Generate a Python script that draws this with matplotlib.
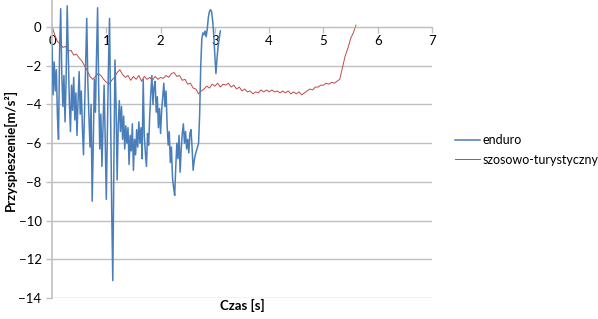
import matplotlib
matplotlib.use("Agg")
import matplotlib.pyplot as plt

plt.rcParams["font.family"] = ["Lato", "DejaVu Sans"]

# enduro: (time [s], acceleration [m/s^2])
enduro_t = [0.00, 0.02, 0.04, 0.06, 0.08, 0.10, 0.12, 0.14, 0.16, 0.18,
            0.20, 0.22, 0.24, 0.26, 0.28, 0.30, 0.32, 0.34, 0.36, 0.38,
            0.40, 0.42, 0.44, 0.46, 0.48, 0.50, 0.52, 0.54, 0.56, 0.58,
            0.60, 0.62, 0.64, 0.66, 0.68, 0.70, 0.72, 0.74, 0.76, 0.78,
            0.80, 0.82, 0.84, 0.86, 0.88, 0.90, 0.92, 0.94, 0.96, 0.98,
            1.00, 1.02, 1.04, 1.06, 1.08, 1.10, 1.12, 1.14, 1.16, 1.18,
            1.20, 1.22, 1.24, 1.26, 1.28, 1.30, 1.32, 1.34, 1.36, 1.38,
            1.40, 1.42, 1.44, 1.46, 1.48, 1.50, 1.52, 1.54, 1.56, 1.58,
            1.60, 1.62, 1.64, 1.66, 1.68, 1.70, 1.72, 1.74, 1.76, 1.78,
            1.80, 1.82, 1.84, 1.86, 1.88, 1.90, 1.92, 1.94, 1.96, 1.98,
            2.00, 2.02, 2.04, 2.06, 2.08, 2.10, 2.12, 2.14, 2.16, 2.18,
            2.20, 2.22, 2.24, 2.26, 2.28, 2.30, 2.32, 2.34, 2.36, 2.38,
            2.40, 2.42, 2.44, 2.46, 2.48, 2.50, 2.52, 2.54, 2.56, 2.58,
            2.60, 2.62, 2.64, 2.66, 2.68, 2.70, 2.72, 2.74, 2.76, 2.78,
            2.80, 2.82, 2.84, 2.86, 2.88, 2.90, 2.92, 2.94, 2.96, 2.98,
            3.00, 3.02, 3.04, 3.06, 3.08, 3.10]
enduro_a = [-0.9, -3.5, -1.8, -3.3, -2.2, -4.6, -5.8, -1.2, 0.95, -2.4,
            -4.1, -2.5, -4.9, -2.7, 1.1, -1.3, -3.9, -5.4, -3.0, -4.3,
            -2.6, -4.8, -3.4, -5.6, -3.8, -2.3, -4.5, -3.3, -5.2, -6.6,
            -4.3, -2.1, 0.45, -2.8, -4.6, -6.2, -4.0, -9.0, -6.1, -2.7,
            -4.4, -1.5, 1.0, -3.2, -6.3, -4.5, -7.2, -5.0, -3.0, -5.8,
            -8.9, -5.5, -2.0, 0.45, -4.5, -9.5, -13.1, -7.0, -1.7, -4.0,
            -7.9, -5.0, -3.8, -5.4, -4.1, -5.8, -4.6, -6.3, -5.1, -6.0,
            -5.2, -7.1, -5.6, -6.4, -5.0, -7.4, -5.8, -6.6, -5.3, -6.2,
            -4.9, -6.0, -5.2, -6.8, -2.7, -5.6, -6.5, -7.2, -5.5, -6.1,
            -4.6, -3.4, -2.5, -4.0, -3.1, -2.8, -4.4, -3.6, -5.2, -4.2,
            -5.5, -4.3, -3.6, -2.9, -4.1, -3.3, -5.0, -6.1, -5.4, -7.0,
            -6.2, -7.8, -8.3, -8.7, -7.2, -6.0, -6.8, -5.6, -7.5, -6.3,
            -5.5, -5.0, -6.0, -5.4, -6.3, -5.8, -6.5, -5.5, -5.3, -6.2,
            -7.4, -6.9, -6.6, -6.4, -6.2, -6.0, -4.5, -2.0, -0.6, -0.3,
            -0.4, -0.2, -0.5, -0.1, 0.5, 0.8, 0.9, 0.8, 0.3, -0.4,
            -1.5, -2.4, -1.6, -1.0, -0.6, -0.2]

# szosowo-turystyczny
road_t = [0.00, 0.05, 0.10, 0.15, 0.20, 0.25, 0.30, 0.35, 0.40, 0.45,
          0.50, 0.55, 0.60, 0.65, 0.70, 0.75, 0.80, 0.85, 0.90, 0.95,
          1.00, 1.05, 1.10, 1.15, 1.20, 1.25, 1.30, 1.35, 1.40, 1.45,
          1.50, 1.55, 1.60, 1.65, 1.70, 1.75, 1.80, 1.85, 1.90, 1.95,
          2.00, 2.05, 2.10, 2.15, 2.20, 2.25, 2.30, 2.35, 2.40, 2.45,
          2.50, 2.55, 2.60, 2.65, 2.70, 2.75, 2.80, 2.85, 2.90, 2.95,
          3.00, 3.05, 3.10, 3.15, 3.20, 3.25, 3.30, 3.35, 3.40, 3.45,
          3.50, 3.55, 3.60, 3.65, 3.70, 3.75, 3.80, 3.85, 3.90, 3.95,
          4.00, 4.05, 4.10, 4.15, 4.20, 4.25, 4.30, 4.35, 4.40, 4.45,
          4.50, 4.55, 4.60, 4.65, 4.70, 4.75, 4.80, 4.85, 4.90, 4.95,
          5.00, 5.05, 5.10, 5.15, 5.20, 5.25, 5.30, 5.35, 5.40, 5.45,
          5.50, 5.55, 5.60]
road_a = [0.05, -0.4, -0.75, -0.85, -1.05, -1.0, -1.25, -1.2, -1.45, -1.4,
          -1.6, -1.75, -2.0, -2.25, -2.55, -2.7, -2.55, -2.4, -2.5, -2.7,
          -2.85, -2.95, -2.75, -2.6, -2.35, -2.2, -2.45, -2.6, -2.5, -2.75,
          -2.55, -2.7, -2.5, -2.8, -2.55, -2.7, -2.6, -2.75, -2.55, -2.7,
          -2.6, -2.65, -2.5, -2.6, -2.4, -2.35, -2.55, -2.5, -2.75, -2.7,
          -2.95, -2.9, -3.15, -3.2, -3.45, -3.3, -3.2, -3.05, -3.15, -2.95,
          -3.05, -2.9, -3.1, -2.95, -3.0, -2.9, -3.1, -3.0, -3.2, -3.1,
          -3.3, -3.2, -3.35, -3.3, -3.45, -3.35, -3.4, -3.25, -3.35, -3.25,
          -3.35, -3.25, -3.35, -3.3, -3.4, -3.3, -3.4, -3.3, -3.45, -3.35,
          -3.45, -3.35, -3.5, -3.4, -3.3, -3.2, -3.25, -3.1, -3.1, -3.0,
          -3.0, -2.9, -2.95, -2.85, -2.9, -2.8, -2.7, -2.1, -1.5, -1.1,
          -0.6, -0.3, 0.1]

GRID = "#bfbfbf"

fig = plt.figure(figsize=(5.98, 3.19), dpi=100)
ax = fig.add_axes([52 / 598, 21 / 319, 380 / 598, 298 / 319])

ax.plot(enduro_t, enduro_a, color="#4a7ebb", lw=1.1, label="enduro", zorder=3)
ax.plot(road_t, road_a, color="#be4b48", lw=0.7, label="szosowo-turystyczny", zorder=2)

ax.set_xlim(0, 7)
ax.set_ylim(-14, 1.4)
ax.set_xticks(range(0, 8))
ax.set_yticks(range(-14, 1, 2))
ax.yaxis.grid(True, color=GRID, lw=1)
ax.set_axisbelow(True)

for s in ("top", "right"):
    ax.spines[s].set_visible(False)
ax.spines["bottom"].set_position(("data", 0))
ax.spines["bottom"].set_color(GRID)
ax.spines["left"].set_color(GRID)
ax.spines["left"].set_linewidth(1.2)
ax.tick_params(axis="both", colors=GRID, length=4, width=1, labelcolor="#000000",
               labelsize=9.5)
ax.tick_params(axis="x", pad=2)

fig.text(242 / 598, 1 - 305 / 319, "Czas [s]", ha="center", va="center",
         fontsize=9.5, fontweight="bold")
fig.text(10 / 598, 1 - 150 / 319, "Przyspieszenie[m/s²]", ha="center", va="center",
         rotation=90, fontsize=9.5, fontweight="bold")

fig.legend(loc="upper left", bbox_to_anchor=(455 / 598, 1 - 134 / 319),
           frameon=False, fontsize=9, handlelength=2.0, handletextpad=0.2,
           borderpad=0, borderaxespad=0, labelspacing=0.6)

fig.savefig("out.png", dpi=100)
